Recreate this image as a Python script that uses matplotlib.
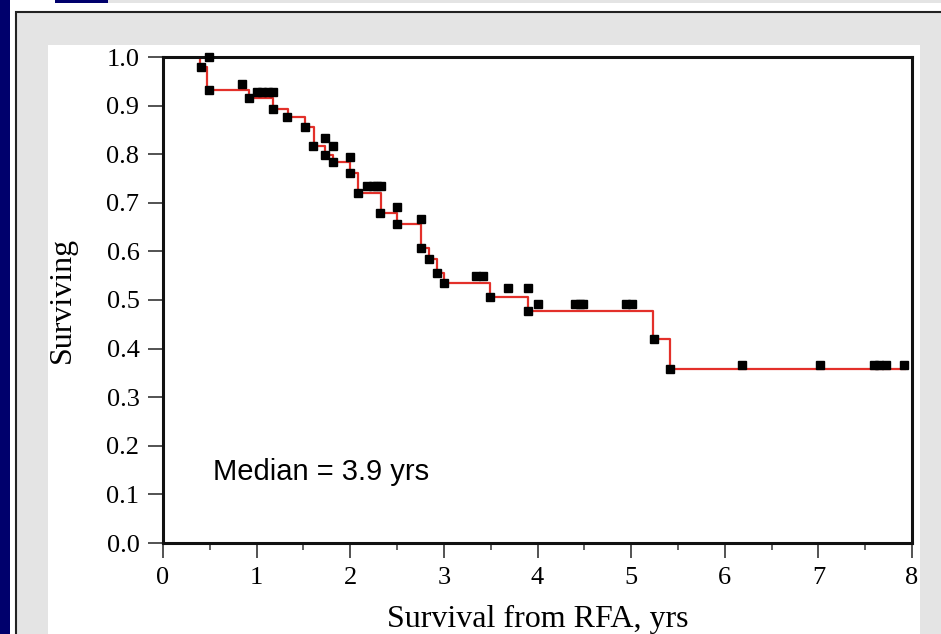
import numpy as np
import matplotlib.pyplot as plt
from matplotlib.patches import Rectangle

# Kaplan-Meier step curve (time in years, fraction surviving)
step_times = [0, 0.40, 0.47, 0.92, 1.17, 1.33, 1.52, 1.61, 1.73, 1.82, 2.00, 2.08,
              2.33, 2.50, 2.76, 2.84, 2.93, 3.00, 3.49, 3.90, 5.23, 5.42, 7.92]
step_surv = [1.0, 0.98, 0.932, 0.915, 0.894, 0.877, 0.856, 0.817, 0.798, 0.783, 0.762, 0.721,
             0.680, 0.656, 0.606, 0.584, 0.556, 0.534, 0.507, 0.478, 0.419, 0.357, 0.357]

# square markers
mark_x = [0.41, 0.49, 0.92, 1.17, 1.32, 1.52, 1.60, 1.73, 1.82, 2.00, 2.08, 2.32, 2.50,
          2.76, 2.84, 2.93, 3.00, 3.49, 3.90, 5.24, 5.42,
          0.49, 0.84, 1.00, 1.06, 1.12, 1.17, 1.73, 1.82, 2.00, 2.18, 2.24, 2.29, 2.33,
          2.50, 2.76, 3.34, 3.42, 3.69, 3.90, 4.00, 4.40, 4.45, 4.49, 4.94, 5.01,
          6.18, 7.02, 7.59, 7.65, 7.72, 7.91]
mark_y = [0.98, 0.932, 0.915, 0.894, 0.877, 0.856, 0.817, 0.798, 0.783, 0.762, 0.721, 0.680, 0.656,
          0.606, 0.584, 0.556, 0.534, 0.507, 0.478, 0.419, 0.357,
          1.0, 0.944, 0.929, 0.929, 0.929, 0.929, 0.833, 0.817, 0.794, 0.735, 0.735, 0.735, 0.735,
          0.691, 0.667, 0.549, 0.549, 0.524, 0.524, 0.491, 0.491, 0.491, 0.491, 0.491, 0.491,
          0.367, 0.367, 0.367, 0.367, 0.367, 0.367]

W, H = 941, 634
fig = plt.figure(figsize=(W / 100, H / 100), dpi=100, facecolor='#00006c')

def box(x0, y0, x1, y1, **kw):
    # rectangle given in pixel coords from the top-left corner
    fig.patches.append(Rectangle((x0 / W, 1 - y1 / H), (x1 - x0) / W, (y1 - y0) / H,
                                 transform=fig.transFigure, figure=fig, zorder=-5, **kw))

box(10, 3, W + 5, H + 5, facecolor='white', edgecolor='none')
box(10, 0, 55, 3, facecolor='white', edgecolor='none')
box(108, 0, W + 5, 3, facecolor='#e4e4e4', edgecolor='none')
box(16, 12, W + 5, H + 5, facecolor='#e4e4e4', edgecolor='#222222', linewidth=1.5)
box(48, 45, 920, H + 5, facecolor='white', edgecolor='none')

ax = fig.add_axes([163 / W, 1 - 543 / H, (912 - 163) / W, 486 / H])
ax.set_facecolor('white')

ax.plot(step_times, step_surv, drawstyle='steps-post', color='#e3302a', linewidth=1.6, zorder=2)
ax.plot(mark_x, mark_y, 's', color='black', markersize=5.8, linestyle='none', zorder=3,
        clip_on=False)

ax.set_xlim(0, 8)
ax.set_ylim(0, 1.0)
ax.set_xticks(np.arange(0, 9, 1))
ax.set_xticks(np.arange(0.5, 8, 1), minor=True)
ax.set_yticks(np.arange(0, 1.01, 0.1))
ax.set_yticklabels(['%.1f' % v for v in np.arange(0, 1.01, 0.1)])

serif = 'Liberation Serif'
for lab in ax.get_xticklabels() + ax.get_yticklabels():
    lab.set_fontfamily(serif)
    lab.set_fontsize(19)
ax.tick_params(axis='both', which='major', direction='out', length=11, width=1.3,
               color='#444444', pad=6)
ax.tick_params(axis='x', which='minor', direction='out', length=5, width=1.3, color='#555555')
for s in ax.spines.values():
    s.set_linewidth(2.2)
    s.set_color('#111111')

ax.set_xlabel('Survival from RFA, yrs', fontfamily=serif, fontsize=23, labelpad=12)
ax.set_ylabel('Surviving', fontfamily=serif, fontsize=23, labelpad=21)

ax.text(0.534, 0.146, 'Median = 3.9 yrs', fontfamily='Liberation Sans', fontsize=21,
        va='center', ha='left')

fig.savefig('out.png', dpi=100, facecolor=fig.get_facecolor())
